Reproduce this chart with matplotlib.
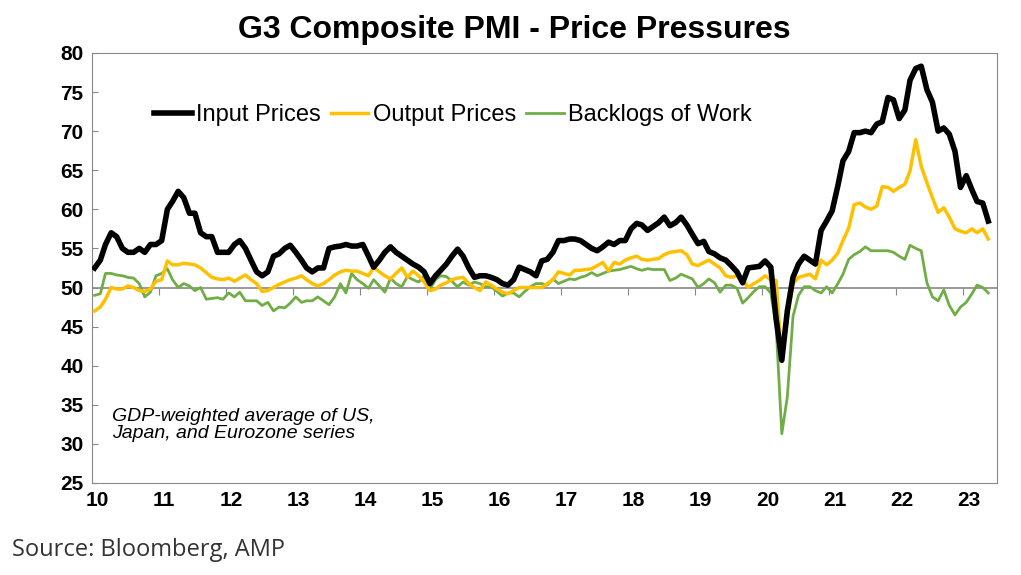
import numpy as np
import pandas as pd
import matplotlib
matplotlib.use("Agg")
import matplotlib.pyplot as plt

# ---- Data (monthly, Jan 2010 - May 2023) ----
input_prices = [
    52.5, 53.5, 55.5, 57, 56.5, 55, 54.5, 54.5, 55, 54.5, 55.5, 55.5,
    56, 60, 61, 62.3, 61.5, 59.5, 59.5, 57, 56.5, 56.5, 54.5, 54.5,
    54.5, 55.5, 56, 55, 53.5, 52, 51.5, 52, 54, 54.3, 55, 55.4,
    54.5, 53.5, 52.5, 52, 52.5, 52.5, 55, 55.2, 55.3, 55.5, 55.3, 55.3,
    55.5, 54, 52.6, 53.5, 54.5, 55.2, 54.5, 54, 53.5, 53, 52.6, 52,
    50.5, 51.5, 52.2, 53, 54, 54.9, 54, 52.5, 51.3, 51.5, 51.5, 51.3,
    51, 50.5, 50.3, 51, 52.6, 52.3, 52, 51.5, 53.4, 53.6, 54.5, 56,
    56, 56.2, 56.2, 56, 55.5, 55, 54.7, 55.2, 55.8, 55.5, 56, 56,
    57.5, 58.2, 58, 57.3, 57.8, 58.3, 59, 57.9, 58.3, 59, 58, 56.8,
    55.6, 55.9, 54.6, 54.3, 53.8, 53.5, 52.8, 52, 50.6, 52.5, 52.6, 52.7,
    53.4, 52.6, 46, 40.7, 47, 51.3, 53, 54, 53.5, 53, 57.3, 58.5,
    59.8, 63, 66.2, 67.4, 69.8, 69.8, 70, 69.8, 70.9, 71.2, 74.3, 74,
    71.6, 72.7, 76.5, 78, 78.3, 75.3, 73.7, 70, 70.4, 69.6, 67.4, 62.8,
    64.3, 62.5, 61, 60.8, 58.5,
]
output_prices = [
    47, 47.5, 48.5, 50, 49.8, 49.8, 50.2, 50, 49.6, 49.5, 49.8, 50.8,
    51, 53.4, 52.9, 52.9, 53.1, 53, 52.9, 52.5, 51.9, 51.3, 51.1, 51,
    51.2, 50.8, 51.2, 51.6, 51, 50.5, 49.5, 49.6, 50, 50.4, 50.7, 51,
    51.2, 51.5, 51, 50.5, 50.2, 50.5, 51, 51.6, 52, 52.2, 52.1, 52.1,
    51.8, 51.5, 52.6, 52, 51.5, 51.1, 51.8, 52.5, 51.3, 52.1, 51.5, 50.7,
    49.6, 49.8, 50.3, 50.6, 51, 51.2, 51.3, 50.5, 50, 49.6, 50.7, 50.3,
    49.8, 49.4, 49.2, 49.6, 50, 50, 50, 50, 50, 50.5, 51, 52,
    51.8, 51.6, 52.2, 52.2, 52.3, 52.4, 52.8, 53.2, 52.1, 53.2, 53, 53.5,
    53.8, 54, 53.6, 53.5, 53.6, 53.7, 54.2, 54.5, 54.6, 54.7, 54.2, 53,
    52.8, 53.2, 53.5, 53, 52.5, 51.5, 51.3, 51.5, 51, 50, 50.5, 50.9,
    51.5, 51, 50.9, 40.5, 46, 50.5, 51.3, 51.5, 51.7, 51.1, 53.5, 52.9,
    53.5, 54.4, 56, 57.6, 60.6, 60.8, 60.3, 60, 60.4, 62.9, 62.8, 62.3,
    62.8, 63.2, 64.9, 68.9, 65.5, 63.4, 61.5, 59.6, 60.2, 59, 57.5, 57.2,
    57, 57.5, 57, 57.5, 56.2,
]
backlogs = [
    49, 49.2, 51.8, 51.8, 51.6, 51.5, 51.3, 51.2, 50.5, 48.8, 49.4, 51.5,
    51.8, 52.4, 51, 50, 50.5, 50.2, 49.6, 50, 48.5, 48.6, 48.7, 48.5,
    49.3, 48.8, 49.4, 48.3, 48.3, 48.3, 47.7, 48.1, 47, 47.5, 47.4, 48,
    48.8, 48.1, 48.3, 48.3, 48.8, 48.3, 47.8, 48.8, 50.5, 49.3, 51.8, 51,
    50.5, 49.9, 51, 50.2, 49.4, 51.2, 50.5, 50.1, 51.4, 51, 50.7, 51.5,
    49.8, 51, 51.5, 51.4, 50.8, 50.1, 50.7, 50.3, 50.7, 50.5, 50.1, 50.1,
    49.5, 48.9, 49.3, 49.3, 48.8, 49.5, 50.1, 50.5, 50.5, 50.3, 51.1, 50.5,
    50.8, 51.1, 51, 51.3, 51.5, 51.9, 51.5, 51.8, 52.1, 52.2, 52.3, 52.5,
    52.7, 52.4, 52.2, 52.4, 52.3, 52.3, 52.3, 50.9, 51.2, 51.7, 51.4, 51.1,
    50, 50.5, 51.1, 50.6, 49.4, 50.3, 50.3, 49.9, 48, 48.7, 49.5, 50.1,
    50.1, 49.3, 45, 31.3, 36, 46.3, 49, 50.1, 50.1, 49.6, 49.3, 50.1,
    49.3, 50.5, 51.7, 53.6, 54.2, 54.6, 55.2, 54.7, 54.7, 54.7, 54.7, 54.5,
    54, 53.6, 55.4, 55, 54.7, 50.6, 48.8, 48.3, 49.7, 47.7, 46.5, 47.5,
    48.1, 49.2, 50.3, 50, 49.3,
]
year_labels = [str(y) for y in range(10, 24)]

# mid-month positions in fractional years
dates = pd.date_range("2010-01-01", periods=len(input_prices), freq="MS") + pd.Timedelta(days=15)
x = dates.year + (dates.dayofyear - 1) / 365.25

plt.rcParams['font.family'] = ['Liberation Sans', 'DejaVu Sans']

fig = plt.figure(figsize=(10.21, 5.75), dpi=100)
ax = fig.add_axes([0.090, 0.160, 0.8865, 0.748])

ax.plot(x, input_prices, color='black', lw=4, label='Input Prices', zorder=4)
ax.plot(x, output_prices, color='#FFC000', lw=2.5, label='Output Prices', zorder=3)
ax.plot(x, backlogs, color='#70AD47', lw=2, label='Backlogs of Work', zorder=2)
ax.axhline(50, color='#888888', lw=1.2, zorder=1)

ax.set_xlim(2010, 2023.5)
ax.set_ylim(25, 80)
ax.set_yticks(range(25, 81, 5))
ax.set_xticks([y + 0.08 for y in range(2010, 2024)])
ax.set_xticklabels(year_labels)
ax.tick_params(axis='x', length=0, pad=6, labelsize=15)
ax.tick_params(axis='y', direction='in', length=4, color='#888888', labelsize=15, pad=6)
for lbl in ax.get_xticklabels() + ax.get_yticklabels():
    lbl.set_fontweight('bold')
for sp in ax.spines.values():
    sp.set_color('#888888')

# tick marks on the 50 line
sec = ax.secondary_xaxis((50 - 25) / 55)
sec.set_xticks(range(2011, 2024))
sec.tick_params(direction='out', length=5, color='#888888', labelbottom=False)
sec.set_xticklabels([])
sec.spines['bottom'].set_visible(False)

ax.legend(loc='upper left', bbox_to_anchor=(0.045, 0.93), frameon=False, ncol=3,
          fontsize=17, handlelength=1.6, handletextpad=0.2, columnspacing=0.4)

ax.text(0.022, 0.135, "GDP-weighted average of US,\nJapan, and Eurozone series",
        transform=ax.transAxes, fontsize=14, style='italic', va='center', linespacing=1.05)

fig.text(0.504, 0.948, "G3 Composite PMI - Price Pressures", ha='center', va='center',
         fontsize=23, fontweight='bold')
fig.text(0.012, 0.043, "Source: Bloomberg, AMP", fontsize=17, color='#333333',
         family=['Open Sans', 'DejaVu Sans'], va='center')

fig.savefig('out.png', dpi=100)
